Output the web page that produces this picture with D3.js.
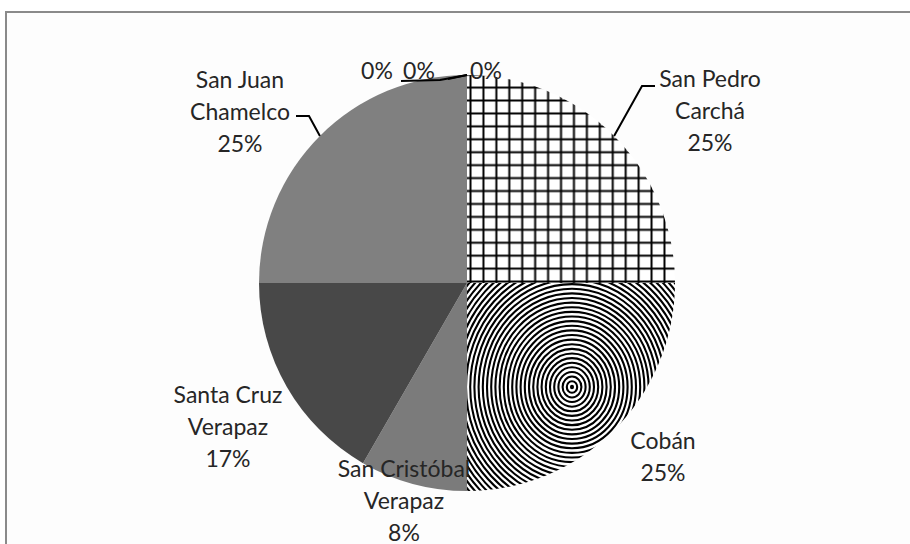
<!DOCTYPE html>
<html>
<head>
<meta charset="utf-8">
<script src="https://cdn.jsdelivr.net/npm/d3@7"></script>
<style>
  body { margin: 0; background: #fff; }
  text { font-family: Lato, Carlito, Calibri, sans-serif; font-size: 23px; fill: #262626; }
</style>
</head>
<body>
<div id="chart"></div>
<script>
// Data ////////////////////////////////////////////////////////////////
const categories = ['San Pedro Carchá', 'Cobán', 'San Cristóbal Verapaz', 'Santa Cruz Verapaz', 'San Juan Chamelco', '', '', '']
const labelLines = [['San Pedro', 'Carchá'], ['Cobán'], ['San Cristóbal', 'Verapaz'], ['Santa Cruz', 'Verapaz'], ['San Juan', 'Chamelco'], [], [], []]
const values = [3, 3, 1, 2, 3, 0, 0, 0]
////////////////////////////////////////////////////////////////////////

const fills = ['url(#grid)', 'rings', '#7b7b7b', '#484848', '#808080', '#808080', '#808080', '#808080']

// label layout: centre x, first baseline y
const labelPos = [[710, 87], [663, 449], [404, 477], [228, 403], [240, 88], [377, 79], [419, 79], [486, 79]]

const dimensions = { width: 910, height: 544, cx: 467, cy: 283, r: 208, lineH: 32 }

const svg = d3.select('#chart')
  .append('svg')
  .attr('width', dimensions.width)
  .attr('height', dimensions.height)

svg.append('rect')
  .attr('x', 6).attr('y', 12)
  .attr('width', 1000).attr('height', 700)
  .attr('fill', '#fdfdfd')
  .attr('stroke', '#8a8a8a')
  .attr('stroke-width', 2)

const defs = svg.append('defs')
const step = 12.93
const grid = defs.append('pattern')
  .attr('id', 'grid')
  .attr('patternUnits', 'userSpaceOnUse')
  .attr('x', 469 - step / 2).attr('y', 283 - step / 2)
  .attr('width', step).attr('height', step)
grid.append('rect').attr('width', step).attr('height', step).attr('fill', '#fff')
grid.append('line').attr('x1', step / 2).attr('x2', step / 2).attr('y1', 0).attr('y2', step)
  .attr('stroke', '#000').attr('stroke-width', 2)
grid.append('line').attr('y1', step / 2).attr('y2', step / 2).attr('x1', 0).attr('x2', step)
  .attr('stroke', '#000').attr('stroke-width', 2)

const pie = d3.pie().sort(null).value(d => d)
const arcs = pie(values)
const arc = d3.arc().innerRadius(0).outerRadius(dimensions.r)

const ctr = svg.append('g')
  .attr('transform', `translate(${dimensions.cx}, ${dimensions.cy})`)

arcs.forEach((a, i) => {
  if (fills[i] === 'rings') {
    defs.append('clipPath').attr('id', 'clip' + i)
      .append('path').attr('d', arc(a))
    const g = ctr.append('g').attr('clip-path', `url(#clip${i})`)
    g.append('path').attr('d', arc(a)).attr('fill', '#fff')
    const ringC = [105, 104]
    g.selectAll('ellipse')
      .data(d3.range(0, 46))
      .join('ellipse')
      .attr('cx', ringC[0]).attr('cy', ringC[1])
      .attr('rx', k => 1 + k * 4.2)
      .attr('ry', k => 1.2 + k * 4.2 * 1.1)
      .attr('fill', 'none')
      .attr('stroke', '#000')
      .attr('stroke-width', 2.1)
  } else {
    ctr.append('path').attr('d', arc(a)).attr('fill', fills[i])
  }
})

// Labels
const total = d3.sum(values)
arcs.forEach((a, i) => {
  const lines = labelLines[i].concat([Math.round(a.data / total * 100) + '%'])
  const t = svg.append('text')
    .attr('text-anchor', 'middle')
  lines.forEach((s, j) => {
    t.append('tspan')
      .attr('x', labelPos[i][0])
      .attr('y', labelPos[i][1] + j * dimensions.lineH)
      .text(s)
  })
})

// Leader lines
const edge = a => {
  const m = (a.startAngle + a.endAngle) / 2
  return [dimensions.cx + dimensions.r * Math.sin(m), dimensions.cy - dimensions.r * Math.cos(m)]
}
const leaders = [
  [0, [[655, 86], [642, 86]]],
  [4, [[296, 116], [309, 116]]],
  [6, [[401, 81], [440, 80]]],
  [7, [[448, 79]]]
]
leaders.forEach(([i, pts]) => {
  svg.append('path')
    .attr('d', d3.line()(pts.concat([edge(arcs[i])])))
    .attr('fill', 'none')
    .attr('stroke', '#000')
    .attr('stroke-width', 2)
})
</script>
</body>
</html>
